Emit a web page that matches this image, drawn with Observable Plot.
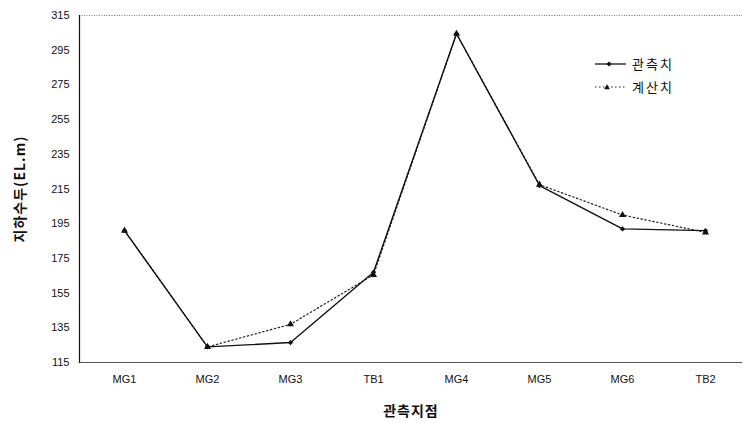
<!DOCTYPE html>
<html><head><meta charset="utf-8">
<script src="https://cdn.jsdelivr.net/npm/d3@7"></script>
<script src="https://cdn.jsdelivr.net/npm/@observablehq/plot@0.6"></script>
<style>
body{margin:0;background:#fff;}
#wrap{position:relative;width:743px;height:423px;}
#wrap svg{font-family:"Liberation Sans","Noto Sans CJK KR",sans-serif;}
g[aria-label="x-axis label"] text, g[aria-label="y-axis label"] text{font-weight:bold;font-size:14px;font-family:"Noto Sans CJK KR",sans-serif;letter-spacing:1px;fill:#111;}
.legend{position:absolute;left:594px;top:52px;font:13px "Noto Sans CJK KR",sans-serif;color:#111;letter-spacing:2px;}
.legend div{display:flex;align-items:center;height:23px;}
.legend svg{margin-right:5px;}
</style></head><body><div id="wrap"></div>
<script>
const sites = ["MG1","MG2","MG3","TB1","MG4","MG5","MG6","TB2"];
const observed = [191, 124, 126.5, 167, 304.5, 217, 192, 191];
const calculated = [191, 124, 137, 165.5, 304.5, 217.5, 200, 190];
const yTicks = [115,135,155,175,195,215,235,255,275,295,315];
const seriesNames = ["관측치","계산치"];
const yTitle = "지하수두(EL.m)";
const xTitle = "관측지점";

const obsData = sites.map((s,i)=>({site:s, value:observed[i]}));
const calcData = sites.map((s,i)=>({site:s, value:calculated[i]}));

const chart = Plot.plot({
  width:743, height:423,
  marginLeft:79, marginTop:15, marginBottom:61, marginRight:1,
  style:{fontSize:"11px", color:"#111", background:"#fff"},
  x:{type:"point", domain:sites, range:[121,708], padding:0},
  y:{domain:[115,315]},
  marks:[
    Plot.ruleY([315], {stroke:"#777", strokeDasharray:"1,1.5"}),
    Plot.ruleY([115], {stroke:"#555", strokeWidth:1.2}),
    Plot.frame({anchor:"left", stroke:"#111", strokeWidth:1.2}),
    Plot.axisY({ticks:yTicks, tickSize:0, tickPadding:10, label:yTitle, labelArrow:false, labelAnchor:"center", labelOffset:64, fontSize:11}),
    Plot.axisX({tickSize:0, tickPadding:13, label:xTitle, labelArrow:false, labelAnchor:"center", labelOffset:53, fontSize:11}),
    Plot.line(calcData, {x:"site", y:"value", stroke:"#222", strokeWidth:1.2, strokeDasharray:"1.5,2.5"}),
    Plot.line(obsData, {x:"site", y:"value", stroke:"#111", strokeWidth:1.4}),
    Plot.dot(calcData, {x:"site", y:"value", symbol:"triangle", r:2.6, fill:"#111"}),
    Plot.dot(obsData, {x:"site", y:"value", symbol:"diamond2", r:2.4, fill:"#111"})
  ]
});
const wrap = document.getElementById("wrap");
wrap.appendChild(chart);

const legend = document.createElement("div");
legend.className = "legend";
legend.innerHTML = `
<div><svg width="33" height="10"><line x1="1" x2="32" y1="5" y2="5" stroke="#111" stroke-width="1.3"/><path d="M15,2.5L17.5,5L15,7.5L12.5,5Z" fill="#111"/></svg>${seriesNames[0]}</div>
<div><svg width="33" height="10"><line x1="1" x2="32" y1="5" y2="5" stroke="#222" stroke-width="1.1" stroke-dasharray="1.5,2.5"/><path d="M13,2.2L15.8,7.2L10.2,7.2Z" fill="#111"/></svg>${seriesNames[1]}</div>`;
wrap.appendChild(legend);
</script></body></html>
